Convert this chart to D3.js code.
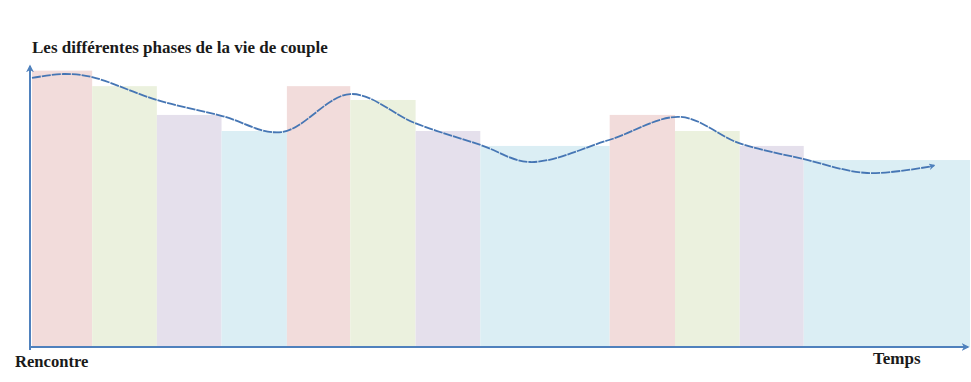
<!DOCTYPE html>
<html>
<head>
<meta charset="utf-8">
<script src="https://cdn.jsdelivr.net/npm/d3@7"></script>
<style>
  html, body { margin: 0; padding: 0; background: #fff; }
  svg { display: block; }
</style>
</head>
<body>
<div id="chart"></div>
<script>
// phases: start time, height, colour key
const phaseStarts = [0, 0.93, 1.93, 2.93, 3.94, 4.92, 5.93, 6.93, 8.93, 9.94, 10.94, 11.93];
const phaseEnd = 14.5;
const phaseHeights = [98, 92.5, 82.3, 76.6, 92.5, 87.6, 76.6, 71.3, 82.3, 76.6, 71.3, 66.3];
const phaseKinds = ['rose', 'vert', 'mauve', 'bleu', 'rose', 'vert', 'mauve', 'bleu', 'rose', 'vert', 'mauve', 'bleu'];

// courbe de la relation
const curveX = [0, 0.49, 0.93, 1.93, 2.94, 3.86, 4.92, 5.92, 6.94, 7.70, 8.92, 10.02, 10.93, 11.92, 12.91, 13.93];
const curveY = [95.4, 96.8, 95.7, 87.6, 81.9, 76.2, 89.7, 79.4, 71.6, 65.6, 73.4, 81.6, 72.3, 66.7, 61.7, 64.2];

const title = 'Les différentes phases de la vie de couple';
const startLabel = 'Rencontre';
const endLabel = 'Temps';

const W = 971, H = 382;
const COLORS = { rose: '#f2dcdb', vert: '#ebf1de', mauve: '#e5e0ec', bleu: '#dbeef4' };
const AXIS = '#4f81bd';

const svg = d3.select('#chart').append('svg')
  .attr('width', W).attr('height', H);

const x = d3.scaleLinear().domain([0, phaseEnd]).range([32, 970]);
const y = d3.scaleLinear().domain([0, 100]).range([347, 65]);

const defs = svg.append('defs');
defs.append('marker')
  .attr('id', 'arrow')
  .attr('viewBox', '0 0 10 10')
  .attr('refX', 8).attr('refY', 5)
  .attr('markerWidth', 4).attr('markerHeight', 4)
  .attr('orient', 'auto')
  .append('path')
  .attr('d', 'M0,0 L10,5 L0,10 L3,5 Z')
  .attr('fill', AXIS);

const phases = phaseStarts.map((s, i) => ({
  start: s,
  end: i < phaseStarts.length - 1 ? phaseStarts[i + 1] : phaseEnd,
  h: phaseHeights[i],
  kind: phaseKinds[i],
}));

svg.append('g').selectAll('rect')
  .data(phases)
  .join('rect')
  .attr('x', d => x(d.start))
  .attr('width', d => x(d.end) - x(d.start))
  .attr('y', d => y(d.h))
  .attr('height', d => y(0) - y(d.h))
  .attr('fill', d => COLORS[d.kind]);

// axes
svg.append('line')
  .attr('x1', 30).attr('x2', 30)
  .attr('y1', 350).attr('y2', 66)
  .attr('stroke', AXIS).attr('stroke-width', 2)
  .attr('marker-end', 'url(#arrow)');
svg.append('line')
  .attr('x1', 29).attr('x2', 968)
  .attr('y1', 347).attr('y2', 347)
  .attr('stroke', AXIS).attr('stroke-width', 2)
  .attr('marker-end', 'url(#arrow)');

const pts = curveX.map((v, i) => [x(v), y(curveY[i])]);
const line = d3.line().curve(d3.curveCatmullRom.alpha(0.5));
svg.append('path')
  .attr('d', line(pts))
  .attr('fill', 'none')
  .attr('stroke', '#4676b4')
  .attr('stroke-width', 1.8)
  .attr('stroke-dasharray', '9 1')
  .attr('stroke-linecap', 'butt');

// petite pointe en fin de courbe
const last = pts[pts.length - 1];
svg.append('line')
  .attr('x1', last[0] - 3).attr('y1', last[1] + 0.6)
  .attr('x2', last[0] + 1).attr('y2', last[1] - 0.5)
  .attr('stroke', '#4676b4').attr('stroke-width', 1.6)
  .attr('marker-end', 'url(#arrow)');

const font = '"Liberation Serif", "DejaVu Serif", serif';
svg.append('text')
  .attr('x', 32).attr('y', 53)
  .attr('font-family', font).attr('font-weight', 'bold').attr('font-size', 17)
  .attr('fill', '#1a1a1a')
  .text(title);
svg.append('text')
  .attr('x', 15).attr('y', 367)
  .attr('font-family', font).attr('font-weight', 'bold').attr('font-size', 16.6)
  .attr('fill', '#1a1a1a')
  .text(startLabel);
svg.append('text')
  .attr('x', 873).attr('y', 364)
  .attr('font-family', font).attr('font-weight', 'bold').attr('font-size', 17)
  .attr('fill', '#1a1a1a')
  .text(endLabel);
</script>
</body>
</html>
